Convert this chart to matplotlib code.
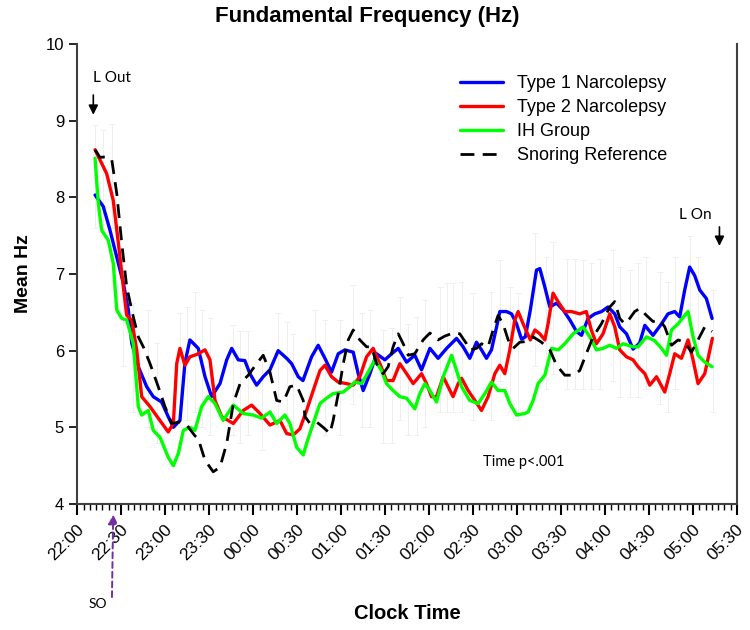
import matplotlib
matplotlib.use("Agg")
import matplotlib.pyplot as plt
from matplotlib.ticker import MultipleLocator, FixedLocator
import matplotlib.transforms as mtransforms

# ---- data (minutes after 22:00, mean Hz) ----
t1_time = [12.1, 17.7, 22.3, 26.9, 31.4, 34.8, 37.1, 41.6, 47.3, 51.8, 57.5, 62.0, 65.5, 70.0, 73.4, 76.8,
           82.5, 87.1, 91.6, 97.3, 101.9, 105.3, 109.8, 114.3, 117.7, 122.3, 126.8, 131.4, 137.0, 142.8,
           146.2, 150.7, 153.9, 159.8, 164.3, 168.9, 173.4, 178.0, 182.5, 188.2, 191.6, 195.0, 199.6,
           204.1, 209.8, 214.4, 218.9, 224.6, 230.2, 234.8, 240.5, 246.1, 251.9, 258.7, 263.2, 267.7,
           272.3, 275.7, 279.1, 282.5, 286.0, 288.2, 292.8, 296.2, 299.6, 303.0, 305.6, 309.0, 313.2,
           315.5, 318.9, 322.3, 326.9, 331.4, 336.0, 340.5, 343.9, 348.4, 353.0, 357.6, 362.0, 366.6,
           370.0, 374.6, 379.1, 383.6, 387.1, 392.7, 398.5, 402.9, 407.5, 410.9, 414.3, 417.7, 421.1,
           424.6, 429.1, 433.0]
t1_hz = [8.03, 7.88, 7.57, 7.22, 6.88, 6.53, 6.10, 5.79, 5.53, 5.40, 5.33, 5.14, 5.00, 5.09, 5.84, 6.14,
         6.03, 5.66, 5.40, 5.57, 5.88, 6.03, 5.88, 5.87, 5.70, 5.55, 5.66, 5.75, 6.00, 5.90,
         5.83, 5.66, 5.61, 5.92, 6.07, 5.90, 5.72, 5.96, 6.01, 5.98, 5.70, 5.48, 5.70,
         5.96, 5.88, 5.96, 6.03, 5.85, 5.94, 5.75, 6.03, 5.90, 6.03, 6.16, 6.05, 5.90,
         6.11, 6.01, 5.90, 6.01, 6.31, 6.51, 6.51, 6.48, 6.35, 6.15, 6.18, 6.53, 7.05,
         7.07, 6.83, 6.57, 6.62, 6.53, 6.40, 6.25, 6.20, 6.42, 6.48, 6.51, 6.57, 6.48,
         6.31, 6.22, 6.02, 6.10, 6.33, 6.20, 6.35, 6.48, 6.51, 6.44, 6.79, 7.09, 6.98,
         6.79, 6.68, 6.42]

t2_time = [12.1, 20.0, 24.5, 28.0, 31.4, 33.7, 37.1, 40.5, 43.9, 49.6, 55.2, 62.0, 65.5, 67.8, 70.0, 73.4,
           76.8, 81.4, 87.1, 90.5, 93.9, 98.5, 106.4, 113.2, 118.9, 124.6, 131.4, 138.2, 142.8, 147.3,
           151.8, 156.4, 160.9, 165.5, 168.9, 173.4, 178.0, 183.7, 188.2, 192.7, 197.3, 201.8, 206.4,
           210.9, 215.4, 220.0, 224.6, 229.1, 234.8, 238.2, 241.6, 245.0, 249.6, 252.9, 256.3, 259.8,
           262.1, 266.6, 271.2, 275.7, 280.2, 284.8, 288.2, 291.6, 295.0, 298.4, 300.7, 304.1, 309.0,
           312.1, 315.5, 318.9, 321.1, 324.5, 327.9, 332.5, 337.0, 342.7, 347.2, 350.6, 354.1, 358.6,
           363.2, 366.6, 370.0, 374.6, 379.1, 382.5, 387.1, 390.5, 395.1, 400.7, 404.1, 407.5, 412.1,
           416.6, 420.0, 423.4, 428.0, 433.2]
t2_hz = [8.62, 8.31, 7.96, 7.40, 6.83, 6.46, 6.40, 6.01, 5.40, 5.27, 5.12, 4.94, 5.05, 5.83, 6.03, 5.81,
         5.92, 5.95, 6.01, 5.88, 5.35, 5.14, 5.05, 5.22, 5.29, 5.18, 5.03, 5.09, 4.92, 4.90,
         4.98, 5.22, 5.48, 5.74, 5.81, 5.66, 5.59, 5.57, 5.55, 5.66, 5.92, 6.03, 5.83,
         5.61, 5.61, 5.83, 5.70, 5.57, 5.70, 5.57, 5.40, 5.40, 5.66, 5.53, 5.40, 5.57,
         5.64, 5.48, 5.35, 5.22, 5.40, 5.70, 5.81, 5.70, 6.01, 6.40, 6.51, 6.35, 6.14,
         6.27, 6.22, 6.14, 6.35, 6.75, 6.64, 6.51, 6.51, 6.48, 6.51, 6.27, 6.09, 6.22,
         6.48, 6.31, 6.01, 5.92, 5.88, 5.79, 5.70, 5.55, 5.66, 5.46, 5.70, 5.96, 5.90,
         6.14, 5.88, 5.57, 5.70, 6.16]

ih_time = [12.1, 14.3, 16.6, 21.1, 24.5, 26.9, 30.3, 33.7, 38.2, 41.6, 43.9, 48.4, 51.8, 56.4, 62.0, 65.5,
           68.9, 72.3, 76.8, 80.2, 84.8, 89.3, 93.9, 99.5, 106.4, 113.2, 120.0, 125.7, 131.4, 136.0,
           141.6, 145.0, 149.6, 154.1, 156.4, 160.9, 165.5, 170.0, 174.5, 181.4, 185.9, 189.3, 193.9,
           198.4, 203.0, 207.5, 210.9, 215.4, 220.0, 224.6, 230.2, 233.6, 237.1, 240.5, 245.0, 249.6,
           255.3, 258.7, 262.1, 267.7, 273.4, 278.0, 282.5, 287.0, 291.6, 295.0, 299.6, 305.2, 307.5,
           310.9, 314.3, 318.9, 323.5, 328.0, 332.5, 338.2, 345.0, 349.6, 354.1, 358.6, 363.2, 367.7,
           372.3, 379.1, 382.5, 388.2, 393.8, 398.5, 401.9, 405.3, 409.8, 414.3, 416.6, 420.0, 423.4,
           428.0, 433.0]
ih_hz = [8.51, 7.92, 7.57, 7.44, 7.14, 6.53, 6.42, 6.40, 6.09, 5.27, 5.16, 5.22, 4.96, 4.87, 4.61, 4.50,
         4.66, 4.96, 5.00, 4.96, 5.27, 5.40, 5.31, 5.09, 5.29, 5.18, 5.16, 5.12, 5.20, 5.05,
         5.16, 5.05, 4.74, 4.64, 4.79, 5.05, 5.31, 5.38, 5.44, 5.46, 5.53, 5.59, 5.57,
         5.72, 5.88, 5.74, 5.57, 5.48, 5.40, 5.38, 5.24, 5.44, 5.57, 5.48, 5.33, 5.66,
         5.94, 5.74, 5.53, 5.35, 5.31, 5.44, 5.59, 5.48, 5.48, 5.31, 5.16, 5.18, 5.20,
         5.35, 5.57, 5.68, 6.03, 6.01, 6.09, 6.22, 6.31, 6.18, 6.01, 6.03, 6.07, 6.03,
         6.09, 6.05, 6.05, 6.18, 6.13, 6.03, 5.94, 6.27, 6.35, 6.46, 6.51, 6.18, 5.94,
         5.85, 5.79]

snore_time = [12.1, 15.5, 20.0, 23.5, 26.9, 30.3, 33.7, 38.2, 41.6, 45.0, 49.6, 55.2, 59.8, 64.4, 70.0, 74.6,
              80.2, 82.5, 87.1, 92.7, 97.3, 101.9, 106.4, 111.0, 116.6, 122.3, 126.8, 131.4, 136.0, 140.5,
              145.0, 149.6, 154.1, 155.3, 158.7, 163.2, 167.7, 172.3, 174.5, 178.0, 181.4, 184.8, 188.2,
              192.7, 197.3, 200.7, 204.1, 208.6, 212.0, 215.4, 218.9, 222.3, 225.7, 230.2, 235.9, 240.5,
              246.1, 250.7, 256.3, 260.9, 265.5, 267.7, 272.3, 275.7, 280.2, 283.6, 287.0, 290.4, 293.9,
              297.3, 301.8, 306.3, 310.9, 316.6, 322.3, 326.9, 332.5, 338.2, 342.7, 347.2, 351.8, 357.5,
              363.2, 366.6, 370.0, 373.4, 376.8, 380.2, 383.6, 388.2, 392.7, 397.3, 400.7, 405.3, 409.8,
              414.3, 418.9, 423.4, 428.0, 433.0]
snore_hz = [8.62, 8.52, 8.53, 8.49, 8.05, 7.40, 6.83, 6.44, 6.18, 6.05, 5.83, 5.53, 5.27, 5.05, 5.07, 5.03,
            4.89, 4.85, 4.57, 4.42, 4.48, 4.79, 5.31, 5.57, 5.68, 5.83, 5.94, 5.72, 5.35, 5.33,
            5.53, 5.55, 5.35, 5.14, 5.05, 5.07, 5.00, 4.92, 5.09, 5.44, 5.83, 6.14, 6.27,
            6.14, 6.05, 6.05, 5.83, 5.70, 5.79, 6.05, 6.22, 6.09, 5.94, 5.96, 6.14, 6.23,
            6.14, 6.19, 6.23, 6.22, 6.09, 6.01, 6.03, 6.09, 6.05, 6.27, 6.46, 6.35, 6.14,
            6.03, 6.11, 6.12, 6.18, 6.11, 6.01, 5.81, 5.68, 5.68, 5.74, 5.96, 6.18, 6.35,
            6.57, 6.64, 6.42, 6.35, 6.42, 6.51, 6.55, 6.46, 6.38, 6.40, 6.31, 6.07, 6.14,
            6.11, 5.98, 6.14, 6.31, 6.25]

# faint error bars (tops and bottoms, Hz)
err_time = [12.1, 17.7, 23.5, 31.4, 38.2, 48.4, 54.1, 70.0, 74.6, 80.2, 84.8, 90.5, 106.4, 111.0, 116.6,
            125.7, 137.0, 142.8, 147.3, 162.1, 168.9, 179.1, 188.2, 193.9, 199.6, 208.6, 214.4, 220.0,
            225.7, 231.4, 237.1, 247.1, 251.9, 256.3, 262.1, 270.0, 282.5, 288.2, 295.0, 300.7, 312.1,
            320.0, 324.5, 333.7, 339.3, 345.0, 350.7, 356.4, 365.4, 370.0, 376.8, 382.5, 388.2, 397.3,
            402.9, 407.5, 417.7, 423.4, 433.6]
err_top = [8.94, 8.88, 8.96, 7.12, 6.62, 6.53, 6.10, 6.49, 6.57, 6.77, 6.53, 6.42, 6.33, 6.25, 6.25,
           6.01, 6.49, 6.38, 6.22, 6.53, 6.40, 6.40, 6.86, 6.49, 6.53, 6.27, 6.29, 6.70,
           6.35, 6.44, 6.66, 6.83, 6.88, 6.88, 6.90, 6.75, 6.77, 7.18, 6.83, 6.75, 7.53,
           7.22, 7.42, 7.20, 7.20, 7.18, 7.14, 7.20, 7.31, 7.09, 7.05, 7.14, 7.22, 7.03,
           6.90, 7.22, 7.50, 7.22, 6.79]
err_bottom = [7.6, 7.5, 7.6, 5.8, 5.2, 5.0, 4.8, 5.0, 5.1, 5.2, 5.0, 4.9, 4.9, 4.8, 4.9,
              4.7, 5.0, 4.9, 4.8, 5.0, 4.9, 4.9, 5.3, 5.0, 5.0, 4.8, 4.8, 5.1,
              4.9, 4.9, 5.0, 5.2, 5.2, 5.2, 5.2, 5.1, 5.1, 5.6, 5.2, 5.1, 5.8,
              5.5, 5.7, 5.5, 5.5, 5.5, 5.5, 5.5, 5.6, 5.4, 5.4, 5.4, 5.5, 5.3,
              5.2, 5.5, 5.8, 5.5, 5.2]

tick_labels = ["22:00", "22:30", "23:00", "23:30", "00:00", "00:30", "01:00", "01:30", "02:00",
               "02:30", "03:00", "03:30", "04:00", "04:30", "05:00", "05:30"]
series_names = ["Type 1 Narcolepsy", "Type 2 Narcolepsy", "IH Group", "Snoring Reference"]

# ---- figure ----
plt.rcParams['font.family'] = ['Liberation Sans', 'DejaVu Sans']
fig = plt.figure(figsize=(7.5, 6.3), dpi=100)
ax = fig.add_axes([0.1031, 0.2, 0.8796, 0.7302])

# error bars
eb_col = '#efefef'
ax.vlines(err_time, err_bottom, err_top, color=eb_col, lw=0.7, zorder=1)
ax.hlines(err_top, [t - 2 for t in err_time], [t + 2 for t in err_time], color=eb_col, lw=0.7, zorder=1)
ax.hlines(err_bottom, [t - 2 for t in err_time], [t + 2 for t in err_time], color=eb_col, lw=0.7, zorder=1)

lw = 2.4
ax.plot(t1_time, t1_hz, color='#0000ff', lw=lw, label=series_names[0], zorder=3,
        solid_joinstyle='round', solid_capstyle='round')
ax.plot(t2_time, t2_hz, color='#ff0000', lw=lw, label=series_names[1], zorder=3,
        solid_joinstyle='round', solid_capstyle='round')
ax.plot(ih_time, ih_hz, color='#00ff00', lw=lw, label=series_names[2], zorder=3,
        solid_joinstyle='round', solid_capstyle='round')
ax.plot(snore_time, snore_hz, color='black', lw=2.0, ls=(0, (5, 3)), label=series_names[3], zorder=4)

ax.set_xlim(0, 450)
ax.set_ylim(4, 10)
ax.xaxis.set_major_locator(FixedLocator([30 * i for i in range(len(tick_labels))]))
ax.set_xticklabels(tick_labels, rotation=45, ha='right', va='top', fontsize=12.5)
ax.xaxis.set_minor_locator(MultipleLocator(30 / 7))
ax.yaxis.set_major_locator(MultipleLocator(1))
ax.tick_params(axis='y', labelsize=12, length=6, width=1.2, direction='out')
ax.tick_params(axis='x', which='major', length=8, width=1.5, direction='out', pad=5)
ax.tick_params(axis='x', which='minor', length=4, width=1.0, direction='out')
offset = mtransforms.ScaledTranslation(7 / 72, 0, fig.dpi_scale_trans)
for lab in ax.get_xticklabels():
    lab.set_transform(lab.get_transform() + offset)

for s in ['left', 'bottom', 'right']:
    ax.spines[s].set_color('#404040')
    ax.spines[s].set_linewidth(1.5)
ax.spines['top'].set_visible(False)

ax.set_title("Fundamental Frequency (Hz)", fontsize=16, fontweight='bold', pad=16, x=0.44)
ax.set_ylabel("Mean Hz", fontsize=14, fontweight='bold', labelpad=10)
ax.set_xlabel("Clock Time", fontsize=14.5, fontweight='bold')
ax.xaxis.set_label_coords(0.5, -0.238)
ax.xaxis.label.set_va('center')

leg = ax.legend(loc='upper left', bbox_to_anchor=(0.555, 0.967), frameon=False, fontsize=13,
                handlelength=2.4, handletextpad=0.8, labelspacing=0.38)

# annotations
ann_font = ['Lato', 'DejaVu Sans']
ax.text(10.5, 9.56, "L Out", fontsize=11, family=ann_font, ha='left', va='center')
ax.annotate("", xy=(10.9, 9.04), xytext=(10.9, 9.37),
            arrowprops=dict(arrowstyle='-|>', color='black', lw=1.2, mutation_scale=14))
ax.text(433, 7.77, "L On", fontsize=11, family=ann_font, ha='right', va='center')
ax.annotate("", xy=(438, 7.33), xytext=(438, 7.65),
            arrowprops=dict(arrowstyle='-|>', color='black', lw=1.2, mutation_scale=14))
ax.text(277, 4.55, "Time p<.001", fontsize=10.5, family=ann_font, ha='left', va='center')
ax.annotate("", xy=(24.5, 3.9), xytext=(23.6, 2.75), xycoords='data', textcoords='data',
            arrowprops=dict(arrowstyle='-|>', color='#7030a0', lw=1.4, ls=(0, (3, 2)),
                            mutation_scale=14), annotation_clip=False)
ax.text(14, 2.7, "SO", fontsize=10, family=ann_font, ha='center', va='center', clip_on=False)

fig.savefig("out.png", dpi=100)
